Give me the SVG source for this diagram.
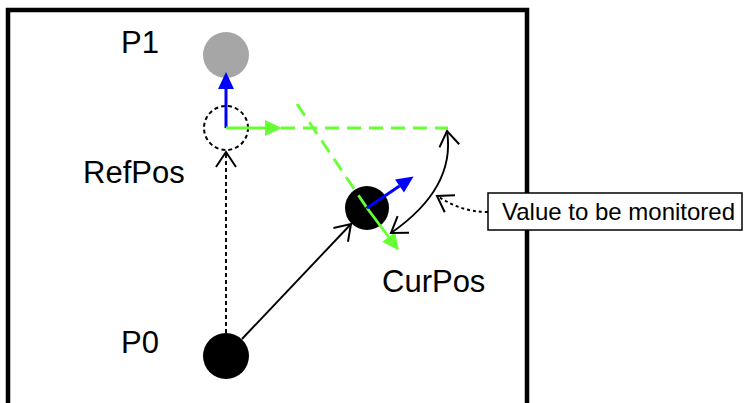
<svg xmlns="http://www.w3.org/2000/svg" width="747" height="403" viewBox="0 0 747 403">
  <style>
    .lbl { font-family: "Liberation Sans", Arial, sans-serif; font-size: 31px; fill: #000; }
    .box { font-family: "Liberation Sans", Arial, sans-serif; font-size: 24px; fill: #000; }
    .blk { stroke: #000; fill: none; stroke-width: 1.9; }
    .grn { stroke: #66ff33; fill: none; stroke-width: 2.8; }
    .blu { stroke: #0000ff; fill: none; stroke-width: 3; }
  </style>
  <defs>
    <marker id="openArrow" markerUnits="userSpaceOnUse" markerWidth="20" markerHeight="24" refX="15" refY="10" orient="auto-start-reverse" viewBox="0 0 20 24" overflow="visible">
      <path d="M0,0 L15,10 L0,20" fill="none" stroke="#000" stroke-width="2"/>
    </marker>
    <marker id="blueHead" markerUnits="userSpaceOnUse" markerWidth="18" markerHeight="18" refX="0" refY="8" orient="auto" overflow="visible">
      <path d="M0,0 L17,8 L0,16 Z" fill="#0000ff"/>
    </marker>
    <marker id="greenHead" markerUnits="userSpaceOnUse" markerWidth="18" markerHeight="18" refX="0" refY="8" orient="auto" overflow="visible">
      <path d="M0,0 L17,8 L0,16 Z" fill="#66ff33"/>
    </marker>
  </defs>

  <rect id="frame" x="8" y="10" width="519" height="400" fill="none" stroke="#000" stroke-width="4.5"/>

  <g id="P1">
    <circle cx="226" cy="55" r="23" fill="#a6a6a6"/>
    <text class="lbl" x="121" y="53">P1</text>
  </g>

  <g id="RefPos">
    <circle cx="226" cy="128" r="22" fill="none" stroke="#000" stroke-width="2" stroke-dasharray="4,3"/>
    <text class="lbl" x="83" y="183">RefPos</text>
  </g>

  <g id="P0">
    <circle cx="226" cy="356" r="23" fill="#000"/>
    <text class="lbl" x="121" y="353">P0</text>
  </g>

  <g id="CurPos">
    <circle cx="367" cy="208" r="22" fill="#000"/>
    <text class="lbl" x="382" y="292">CurPos</text>
  </g>

  <g id="ValueBox">
    <rect x="488" y="193" width="254" height="37" fill="#fff" stroke="#000" stroke-width="1.5"/>
    <text class="box" x="502" y="220">Value to be monitored</text>
  </g>

  <g id="connectors">
    <path class="grn" d="M281,128 H448" stroke-dasharray="14,8"/>
    <path class="grn" d="M297,104 L367,208" stroke-dasharray="14,8"/>
    <path class="blk" d="M226,333 V152" stroke-dasharray="4,3" marker-end="url(#openArrow)"/>
    <path class="blk" d="M242,339 L351,224" marker-end="url(#openArrow)"/>
    <path class="blu" d="M226,128 V89" marker-end="url(#blueHead)"/>
    <path class="grn" d="M226,128 H265" marker-end="url(#greenHead)"/>
    <path class="grn" d="M367,208 L388.7,237" marker-end="url(#greenHead)"/>
    <path class="blu" d="M367,208 L399.5,186" marker-end="url(#blueHead)"/>
    <path class="blk" d="M447,131 Q456,188 391,233" stroke-width="2.2" marker-start="url(#openArrow)" marker-end="url(#openArrow)"/>
    <path class="blk" d="M488,212 C466,212 452,205 437,196" stroke-dasharray="3,3" marker-end="url(#openArrow)"/>
  </g>
</svg>
